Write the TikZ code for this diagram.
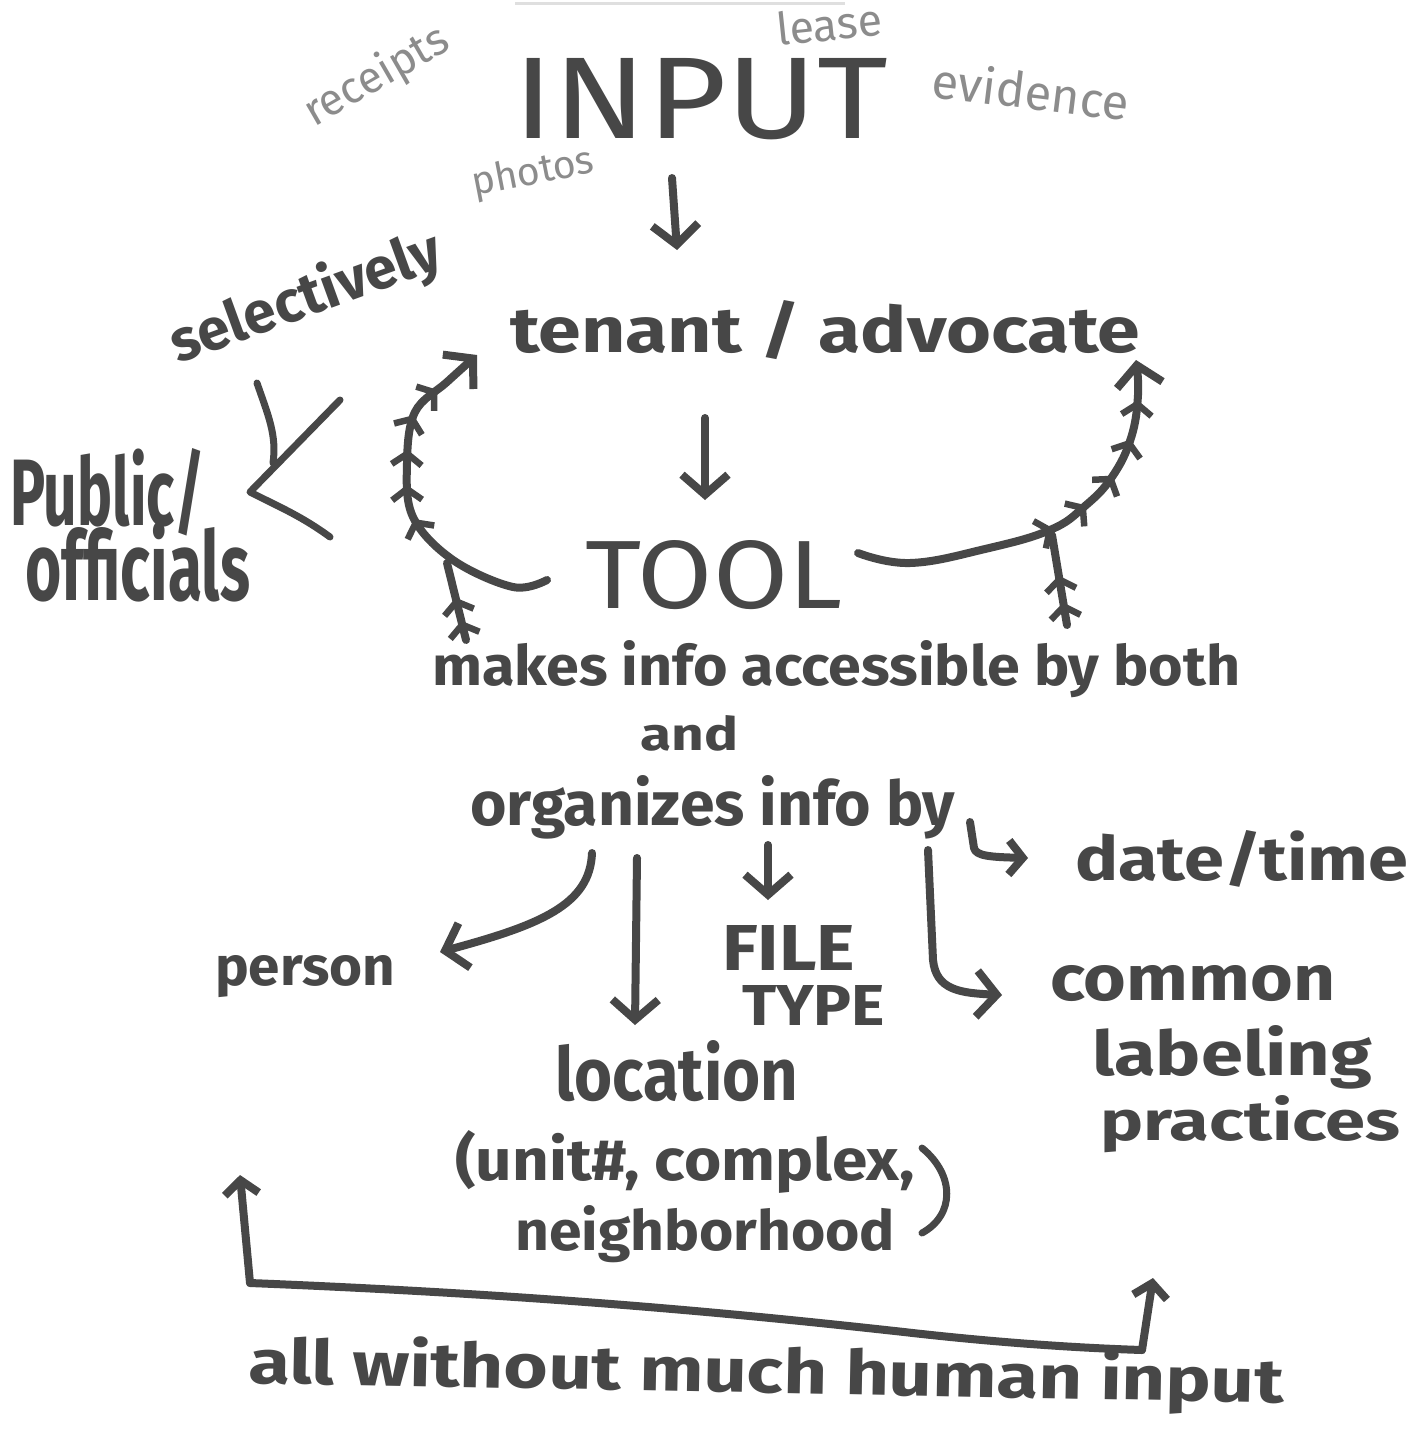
\documentclass[tikz,border=0pt]{standalone}
\usepackage{fontspec}
\setmainfont{Fira Sans}
\usepackage{graphicx}
\usetikzlibrary{arrows.meta,decorations.markings}
\definecolor{inkc}{HTML}{474747}
\definecolor{grayc}{HTML}{8C8C8C}
\newcommand{\hw}[3]{\resizebox{#1pt}{#2pt}{#3}}
\newcommand{\hwf}[2]{\resizebox{#1pt}{!}{#2}}
\begin{document}
\begin{tikzpicture}[x=1pt,y=-1pt,
  ink/.style={draw=inkc, line width=8pt, line cap=round, line join=round},
  arr/.style={ink, -{Straight Barb[length=20pt,width=46pt]}},
  sarr/.style={ink, -{Straight Barb[length=14pt,width=34pt]}},
  txt/.style={inner sep=0pt, text=inkc, anchor=base west, font=\bfseries},
  faint/.style={inner sep=0pt, text=grayc, anchor=base west},
  feathers/.style={postaction={decorate}, decoration={markings,
     mark=between positions #1 with {\arrow[line width=6.5pt]{Straight Barb[length=11pt,width=30pt]}}}}]
\fill[white] (0,0) rectangle (1421,1435);
\useasboundingbox (0,0) rectangle (1421,1435);
\draw[gray!25, line width=3pt] (515,3) -- (845,3);

% ---- top ----
\node[txt, font=\mdseries] (input) at (513,138) {\hw{375}{80}{INPUT}};
\node[faint, rotate=30] (receipts) at (314,128) {\hwf{160}{receipts}};
\node[faint, rotate=6] (lease) at (778,46) {\hwf{106}{lease}};
\node[faint, rotate=-7] (evidence) at (930,97) {\hwf{198}{evidence}};
\node[faint, rotate=11] (photos) at (474,196) {\hwf{124}{photos}};

\coordinate (a1s) at (672,178);
\coordinate (a1e) at (677,250);
\draw[arr] (a1s) -- (a1e);

\node[txt] (tenant) at (510,352) {\hw{630}{52}{tenant / advocate}};
\coordinate (a2s) at (705,418);
\coordinate (a2e) at (705,500);
\draw[arr] (a2s) -- (a2e);

\node[txt, font=\mdseries] (tool) at (585,608) {\hw{257}{68}{TOOL}};

% ---- selectively / public officials ----
\node[txt, rotate=20] (selectively) at (178,364) {\hwf{285}{selectively}};
\node[txt] (public) at (10,525) {\hw{195}{77}{Public/}};
\node[txt] (officials) at (25,600) {\hw{225}{78}{officials}};
\coordinate (sp) at (250,492);
\draw[ink, line width=7pt] (257,383) .. controls (268,415) and (277,435) .. (273,463);
\draw[ink, line width=7pt] (340,400) -- (sp) .. controls (275,505) and (300,515) .. (330,537);

% ---- feathered arcs ----
\coordinate (ls) at (547,580);
\coordinate (le) at (477,355);
\draw[arr, feathers={0.45 and 0.92 step 0.1}]
  plot[smooth, tension=0.6] coordinates {(ls) (513,587) (453,560) (413,517) (407,463) (415,412) (447,382) (le)};
\coordinate (lbs) at (466,640);
\coordinate (lbe) at (447,563);
\draw[ink, feathers={0.25 and 0.7 step 0.3}] (lbs) -- (lbe);

\coordinate (rs) at (858,553);
\coordinate (re) at (1136,360);
\draw[arr, feathers={0.5 and 0.92 step 0.1}]
  plot[smooth, tension=0.7] coordinates {(rs) (910,563) (985,549) (1050,530) (1085,506) (1112,477) (1131,438) (1138,395) (re)};
\coordinate (rbs) at (1067,625);
\coordinate (rbe) at (1052,535);
\draw[ink, feathers={0.25 and 0.7 step 0.3}] (rbs) -- (rbe);

% ---- middle text ----
\node[txt] (makes) at (432,685) {\hw{808}{45}{makes info accessible by both}};
\node[txt] (and) at (640,750) {\hw{98}{35}{and}};
\node[txt] (organizes) at (470,825) {\hw{485}{50}{organizes info by}};
\node[txt] (datetime) at (1075,880) {\hw{333}{50}{date/time}};

\coordinate (dts) at (970,822);
\coordinate (dte) at (1028,858);
\draw[sarr] (dts) -- (974,848) .. controls (976,856) and (990,857) .. (dte);

% ---- branches ----
\node[txt] (person) at (215,985) {\hw{180}{30}{person}};
\coordinate (ps) at (592,853);
\coordinate (pe) at (440,952);
\draw[arr] (ps) .. controls (590,905) and (540,925) .. (pe);

\coordinate (los) at (637,858);
\coordinate (loe) at (635,1025);
\draw[arr] (los) -- (loe);

\coordinate (fs) at (768,845);
\coordinate (fe) at (768,900);
\draw[arr] (fs) -- (fe);
\node[txt] (file) at (722,970) {\hw{133}{45}{FILE}};
\node[txt] (type) at (742,1025) {\hw{143}{40}{TYPE}};

\coordinate (cs) at (928,850);
\coordinate (ce) at (1002,995);
\draw[arr] (cs) -- (933,960) .. controls (936,990) and (960,993) .. (ce);

\node[txt] (common) at (1050,1000) {\hw{285}{35}{common}};
\node[txt] (labeling) at (1092,1075) {\hw{280}{50}{labeling}};
\node[txt] (practices) at (1100,1140) {\hw{300}{45}{practices}};

\node[txt] (location) at (555,1100) {\hw{243}{60}{location}};
\node[txt] (unit) at (455,1180) {\hw{460}{50}{(unit\#, complex,}};
\node[txt] (neigh) at (515,1250) {\hw{380}{45}{neighborhood}};
\draw[ink, line width=7pt] (922,1148) .. controls (955,1175) and (955,1215) .. (922,1233);

% ---- bottom bracket ----
\coordinate (bl) at (250,1283);
\coordinate (blt) at (240,1175);
\coordinate (br) at (1142,1350);
\coordinate (brt) at (1153,1278);
\draw[sarr] (bl) -- (blt);
\draw[ink] (bl) .. controls (550,1295) and (750,1315) .. (904,1332) .. controls (1000,1343) and (1080,1348) .. (br);
\draw[sarr] (br) -- (brt);

\node[txt, rotate=-1.1] (allw) at (248,1383) {\hw{1035}{50}{all without much human input}};
\end{tikzpicture}
\end{document}
